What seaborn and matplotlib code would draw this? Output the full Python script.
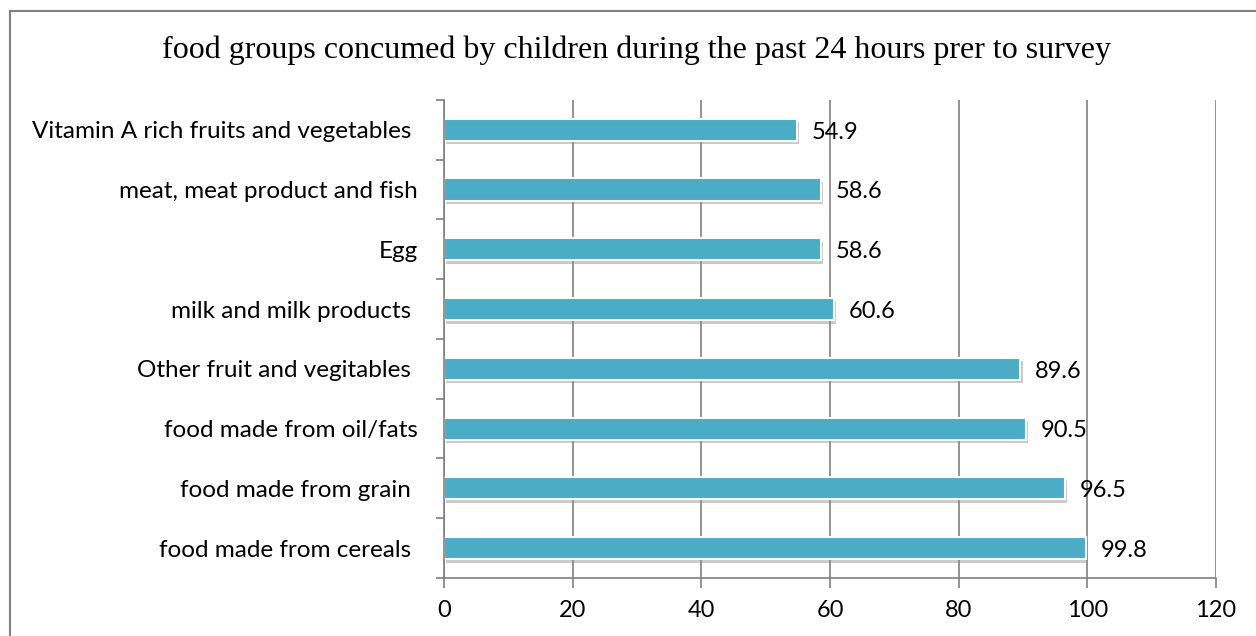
import numpy as np
import pandas as pd
import seaborn as sns
import matplotlib.pyplot as plt
import matplotlib.patheffects as pe
from matplotlib.patches import Rectangle
from matplotlib.ticker import FixedLocator

categories = [
    "Vitamin A rich fruits and vegetables ",
    "meat, meat product and fish",
    "Egg",
    "milk and milk products ",
    "Other fruit and vegitables ",
    "food made from oil/fats",
    "food made from grain ",
    "food made from cereals ",
]
values = [54.9, 58.6, 58.6, 60.6, 89.6, 90.5, 96.5, 99.8]
x_ticks = [0, 20, 40, 60, 80, 100, 120]

df = pd.DataFrame({"group": categories, "pct": values})

sns.set_theme(style="white")
plt.rcParams['font.family'] = ['Lato', 'DejaVu Sans']

fig = plt.figure(figsize=(12.56, 6.36), dpi=100)
ax = fig.add_axes([0.3535, 0.0912, 0.6147, 0.7518])

sns.barplot(data=df, y="group", x="pct", orient="h", color="#4BACC6",
            saturation=1, width=0.37, edgecolor="white", linewidth=1.5, ax=ax)
for p in ax.patches:
    p.set_path_effects([pe.SimplePatchShadow(offset=(1.5, -2.5), shadow_rgbFace="#8a8a8a", alpha=0.45),
                        pe.Normal()])

for i, v in enumerate(values):
    ax.text(v + 2.3, i + 0.04, f"{v}", va="center", ha="left", fontsize=17, color="black")

ax.set_xlim(0, 120)
ax.set_ylim(7.5, -0.5)
ax.set_xticks(x_ticks)
ax.set_xticklabels([str(t) for t in x_ticks])
ax.set_xlabel("")
ax.set_ylabel("")
ax.xaxis.grid(True, color="#808080", linewidth=1.2)
ax.set_axisbelow(True)

for s in ["top", "right"]:
    ax.spines[s].set_visible(False)
for s in ["left", "bottom"]:
    ax.spines[s].set_color("#808080")
    ax.spines[s].set_linewidth(1.2)

ax.tick_params(axis="x", which="major", length=7, width=1.2, color="#808080",
               direction="out", labelsize=17, labelcolor="black", pad=9, bottom=True)
ax.tick_params(axis="y", which="major", length=0, labelsize=17.5, labelcolor="black", pad=19)
ax.yaxis.set_minor_locator(FixedLocator(np.arange(-0.5, 8, 1)))
ax.tick_params(axis="y", which="minor", length=6, width=1.2, color="#808080",
               direction="out", left=True)

fig.text(0.507, 0.921, "food groups concumed by children during the past 24 hours prer to survey",
         ha="center", va="center", fontsize=23, color="black", family=["Liberation Serif"])

fig.patches.append(Rectangle((0.008, -0.1), 1.1, 1.083, transform=fig.transFigure,
                             fill=False, edgecolor="#808080", linewidth=1.5))

fig.savefig("out.png", dpi=100)
